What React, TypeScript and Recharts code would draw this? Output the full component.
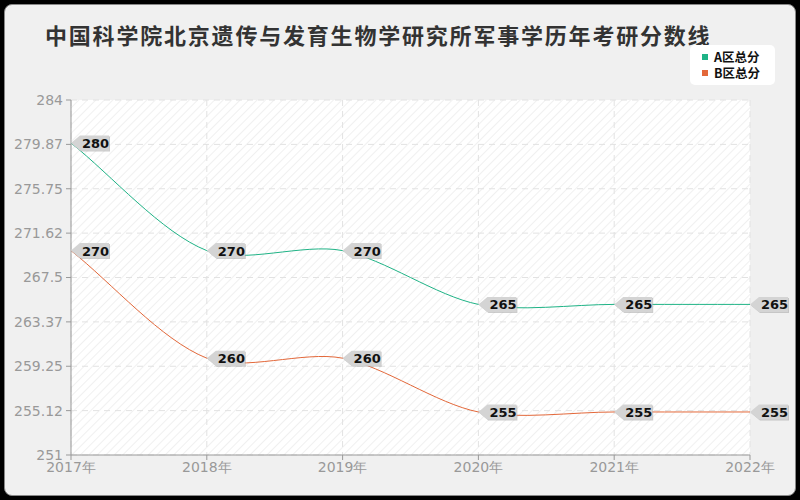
import React from "react";
import {
  LineChart,
  Line,
  XAxis,
  YAxis,
  CartesianGrid,
  LabelList,
} from "recharts";

const years = ["2017年", "2018年", "2019年", "2020年", "2021年", "2022年"];
const scoresA = [280, 270, 270, 265, 265, 265];
const scoresB = [270, 260, 260, 255, 255, 255];
const yTicks = [251, 255.125, 259.25, 263.375, 267.5, 271.625, 275.75, 279.875, 284];

const data = years.map((year, i) => ({ year, a: scoresA[i], b: scoresB[i] }));

const GREEN = "#1fb386";
const ORANGE = "#e3683a";

// smooth curve: control points from neighbours, weighted by segment length
function smoothCurve(context: any) {
  let pts: [number, number][] = [];
  return {
    areaStart() {},
    areaEnd() {},
    lineStart() {
      pts = [];
    },
    point(x: number, y: number) {
      pts.push([+x, +y]);
    },
    lineEnd() {
      const n = pts.length;
      if (!n) return;
      const k = 0.3;
      const cpIn: [number, number][] = [];
      const cpOut: [number, number][] = [];
      for (let i = 0; i < n; i++) {
        const cur = pts[i];
        const prev = pts[i - 1] || cur;
        const next = pts[i + 1] || cur;
        const vx = (next[0] - prev[0]) * k;
        const vy = (next[1] - prev[1]) * k;
        const d0 = Math.hypot(cur[0] - prev[0], cur[1] - prev[1]);
        const d1 = Math.hypot(next[0] - cur[0], next[1] - cur[1]);
        const r = d0 + d1 === 0 ? 0.5 : d1 / (d0 + d1);
        cpIn.push([cur[0] - vx * (1 - r), cur[1] - vy * (1 - r)]);
        cpOut.push([cur[0] + vx * r, cur[1] + vy * r]);
      }
      context.moveTo(pts[0][0], pts[0][1]);
      for (let i = 0; i < n - 1; i++) {
        context.bezierCurveTo(
          cpOut[i][0], cpOut[i][1],
          cpIn[i + 1][0], cpIn[i + 1][1],
          pts[i + 1][0], pts[i + 1][1]
        );
      }
    },
  };
}

const ValueTag = (props: any) => {
  const { x, y, value } = props;
  if (x == null || y == null) return null;
  const h = 15;
  const path = `M${x},${y} L${x + 9},${y - h / 2} L${x + 38},${y - h / 2} L${x + 38},${y + h / 2} L${x + 9},${y + h / 2} Z`;
  return (
    <g>
      <path d={path} transform="translate(1,1)" fill="#aaa" opacity={0.6} />
      <path d={path} fill="#d4d4d4" />
      <text
        x={x + 11}
        y={y + 5}
        fontSize={13}
        fontWeight="bold"
        fill="#111"
        fontFamily="DejaVu Sans, sans-serif"
      >
        {value}
      </text>
    </g>
  );
};

const legendItems = [
  { name: "A区总分", color: GREEN },
  { name: "B区总分", color: ORANGE },
];

export default function App() {
  return (
    <div
      style={{
        position: "fixed",
        left: 0,
        top: 0,
        width: 800,
        height: 500,
        background: "#000",
        overflow: "hidden",
      }}
    >
      <div
        style={{
          position: "absolute",
          left: 4,
          top: 4,
          width: 790,
          height: 490,
          background: "#f0f0f0",
          border: "1px solid #888",
          borderRadius: 8,
        }}
      />
      <div
        style={{
          position: "absolute",
          left: 45,
          top: 18,
          fontFamily: "Noto Sans CJK SC, sans-serif",
          fontWeight: "bold",
          fontSize: 22,
          color: "#333",
          letterSpacing: 1.8,
          whiteSpace: "nowrap",
        }}
      >
        中国科学院北京遗传与发育生物学研究所军事学历年考研分数线
      </div>
      <div
        style={{
          position: "absolute",
          left: 690,
          top: 45,
          width: 85,
          height: 40,
          boxSizing: "border-box",
          background: "#fff",
          borderRadius: 5,
          padding: "4px 0 0 12px",
          fontFamily: "Noto Sans CJK SC, sans-serif",
          fontSize: 12.5,
          fontWeight: "bold",
          color: "#111",
        }}
      >
        {legendItems.map((it) => (
          <div
            key={it.name}
            style={{ display: "flex", alignItems: "center", height: 16, lineHeight: "14px" }}
          >
            <span
              style={{
                width: 6,
                height: 6,
                background: it.color,
                display: "inline-block",
                marginRight: 6,
              }}
            />
            {it.name}
          </div>
        ))}
      </div>
      <div style={{ position: "absolute", left: 0, top: 0 }}>
        <LineChart
          width={800}
          height={500}
          data={data}
          margin={{ top: 100, right: 50, bottom: 15, left: 0 }}
        >
          <defs>
            <pattern
              id="hatch"
              width="6"
              height="6"
              patternUnits="userSpaceOnUse"
              patternTransform="rotate(45)"
            >
              <rect width="6" height="6" fill="#ffffff" />
              <line x1="0" y1="0" x2="0" y2="6" stroke="#f0f0f0" strokeWidth="2" />
            </pattern>
          </defs>
          <CartesianGrid
            fill="url(#hatch)"
            stroke="#e2e2e2"
            strokeDasharray="6 5"
          />
          <XAxis
            dataKey="year"
            height={30}
            stroke="#999"
            tick={{ fill: "#999", fontSize: 14, fontFamily: "DejaVu Sans, sans-serif" }}
            tickSize={5}
            tickMargin={2}
          />
          <YAxis
            width={71}
            domain={[251, 284]}
            ticks={yTicks}
            interval={0}
            stroke="#999"
            tickSize={5}
            tickMargin={3}
            tick={{ fill: "#999", fontSize: 14, fontFamily: "DejaVu Sans, sans-serif" }}
            tickFormatter={(v: number) => String(Math.floor(v * 100 + 1e-6) / 100)}
          />
          <Line
            type={smoothCurve as any}
            dataKey="a"
            name="A区总分"
            stroke={GREEN}
            strokeWidth={1}
            dot={false}
            isAnimationActive={false}
          >
            <LabelList dataKey="a" content={<ValueTag />} />
          </Line>
          <Line
            type={smoothCurve as any}
            dataKey="b"
            name="B区总分"
            stroke={ORANGE}
            strokeWidth={1}
            dot={false}
            isAnimationActive={false}
          >
            <LabelList dataKey="b" content={<ValueTag />} />
          </Line>
        </LineChart>
      </div>
    </div>
  );
}
